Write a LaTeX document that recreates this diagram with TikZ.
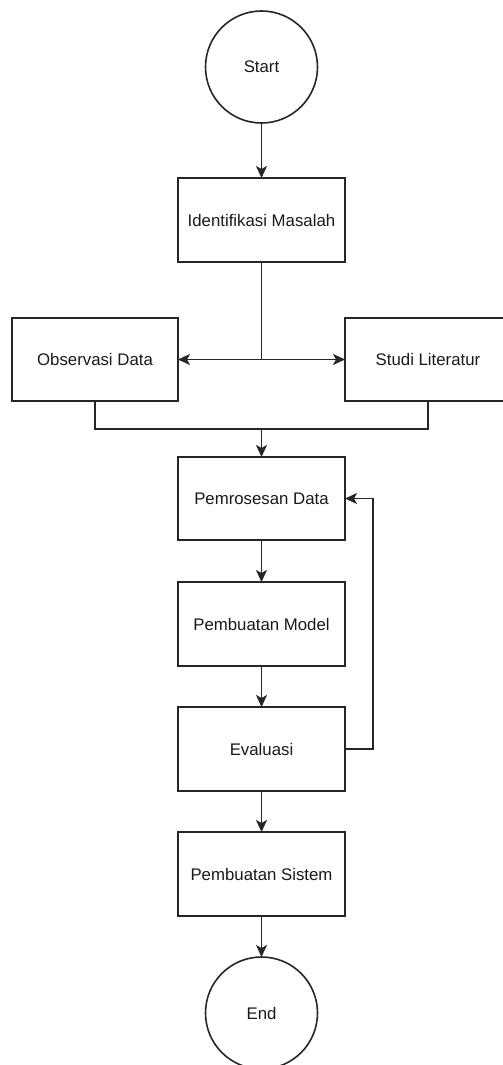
\documentclass[tikz,border=0pt]{standalone}
\usepackage{fontspec}
\setmainfont{Liberation Sans}
\usetikzlibrary{arrows.meta}
\begin{document}
\begin{tikzpicture}[x=1pt,y=-1pt,
  every node/.style={font=\fontsize{16.8}{19}\selectfont, text=black!90, inner sep=0pt, outer sep=0pt},
  proc/.style={draw=black!85, line width=1.6pt, rectangle, minimum width=167pt, minimum height=84pt},
  term/.style={draw=black!85, line width=1.6pt, circle, minimum size=112pt},
  conn/.style={draw=black!85, line width=1.6pt},
  arr/.style={conn, -{Stealth[length=12pt,width=11pt,inset=3pt]}}]
\clip (0,0) rectangle (503,1065);
\useasboundingbox (0,0) rectangle (503,1065);
\node[term] (start) at (261.5,67) {Start};
\node[proc] (ident) at (261.5,220) {Identifikasi Masalah};
\node[proc, minimum width=166pt, minimum height=83pt] (obs) at (95,359.5) {Observasi Data};
\node[proc, minimum width=166pt, minimum height=83pt] (studi) at (428,359.5) {Studi Literatur};
\node[proc, minimum height=83pt] (pre) at (261.5,498.5) {Pemrosesan Data};
\node[proc] (model) at (261.5,624) {Pembuatan Model};
\node[proc] (eval) at (261.5,749) {Evaluasi};
\node[proc] (sis) at (261.5,874) {Pembuatan Sistem};
\node[term] (end) at (261.5,1013) {End};
\coordinate (branch) at (261.5,359.5);
\coordinate (join) at (261.5,429);
\coordinate (loop) at (373,749);
\draw[arr] (start) -- (ident);
\draw[conn] (ident.south) -- (branch);
\draw[arr] (branch) -- (obs.east);
\draw[arr] (branch) -- (studi.west);
\draw[conn] (obs.south) |- (join) -| (studi.south);
\draw[arr] (join) -- (pre.north);
\draw[arr] (pre) -- (model);
\draw[arr] (model) -- (eval);
\draw[arr] (eval) -- (sis);
\draw[arr] (sis) -- (end);
\draw[arr] (eval.east) -- (loop) |- (pre.east);
\end{tikzpicture}
\end{document}
